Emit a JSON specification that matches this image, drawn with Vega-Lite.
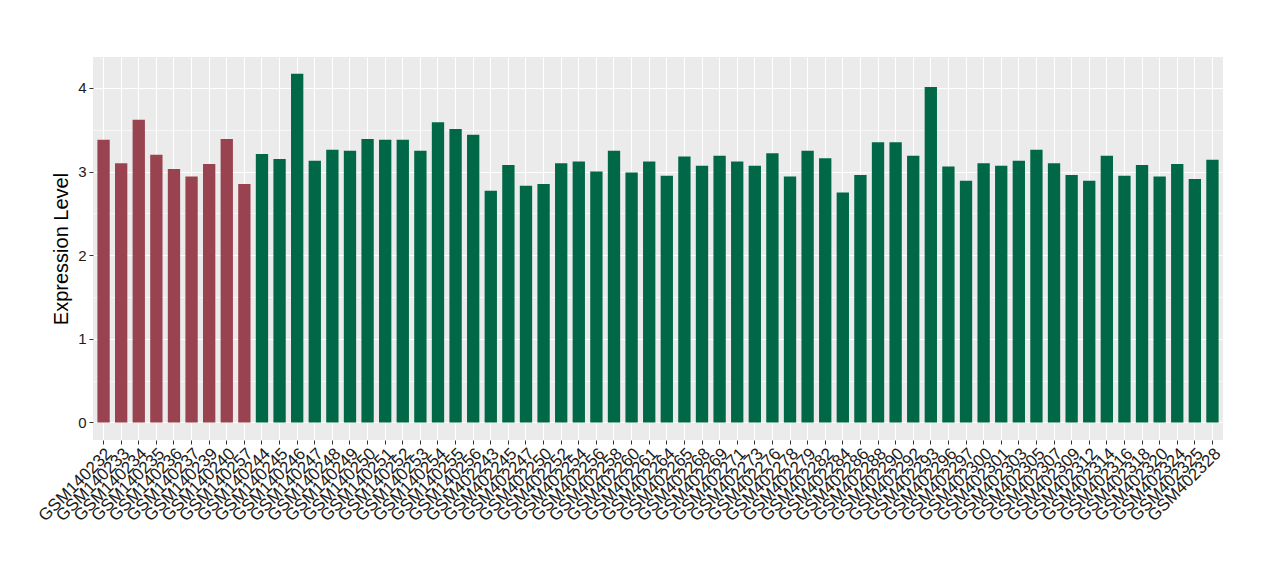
{
  "$schema": "https://vega.github.io/schema/vega-lite/v6.json",
  "width": 1130,
  "height": 383,
  "autosize": {"type": "none"},
  "padding": {"left": 93, "top": 57, "right": 57, "bottom": 140},
  "background": "white",
  "config": {
    "view": {"fill": "#EBEBEB", "stroke": null},
    "font": "Liberation Sans"
  },
  "data": {
    "values": [
      {"s": "GSM140232", "v": 3.38, "g": "a"},
      {"s": "GSM140233", "v": 3.10, "g": "a"},
      {"s": "GSM140234", "v": 3.62, "g": "a"},
      {"s": "GSM140235", "v": 3.20, "g": "a"},
      {"s": "GSM140236", "v": 3.03, "g": "a"},
      {"s": "GSM140237", "v": 2.94, "g": "a"},
      {"s": "GSM140239", "v": 3.09, "g": "a"},
      {"s": "GSM140240", "v": 3.39, "g": "a"},
      {"s": "GSM140257", "v": 2.85, "g": "a"},
      {"s": "GSM140244", "v": 3.21, "g": "b"},
      {"s": "GSM140245", "v": 3.15, "g": "b"},
      {"s": "GSM140246", "v": 4.17, "g": "b"},
      {"s": "GSM140247", "v": 3.13, "g": "b"},
      {"s": "GSM140248", "v": 3.26, "g": "b"},
      {"s": "GSM140249", "v": 3.25, "g": "b"},
      {"s": "GSM140250", "v": 3.39, "g": "b"},
      {"s": "GSM140251", "v": 3.38, "g": "b"},
      {"s": "GSM140252", "v": 3.38, "g": "b"},
      {"s": "GSM140253", "v": 3.25, "g": "b"},
      {"s": "GSM140254", "v": 3.59, "g": "b"},
      {"s": "GSM140255", "v": 3.51, "g": "b"},
      {"s": "GSM140256", "v": 3.44, "g": "b"},
      {"s": "GSM402243", "v": 2.77, "g": "b"},
      {"s": "GSM402245", "v": 3.08, "g": "b"},
      {"s": "GSM402247", "v": 2.83, "g": "b"},
      {"s": "GSM402250", "v": 2.85, "g": "b"},
      {"s": "GSM402252", "v": 3.10, "g": "b"},
      {"s": "GSM402254", "v": 3.12, "g": "b"},
      {"s": "GSM402256", "v": 3.00, "g": "b"},
      {"s": "GSM402258", "v": 3.25, "g": "b"},
      {"s": "GSM402260", "v": 2.99, "g": "b"},
      {"s": "GSM402261", "v": 3.12, "g": "b"},
      {"s": "GSM402264", "v": 2.95, "g": "b"},
      {"s": "GSM402265", "v": 3.18, "g": "b"},
      {"s": "GSM402268", "v": 3.07, "g": "b"},
      {"s": "GSM402269", "v": 3.19, "g": "b"},
      {"s": "GSM402271", "v": 3.12, "g": "b"},
      {"s": "GSM402273", "v": 3.07, "g": "b"},
      {"s": "GSM402276", "v": 3.22, "g": "b"},
      {"s": "GSM402278", "v": 2.94, "g": "b"},
      {"s": "GSM402279", "v": 3.25, "g": "b"},
      {"s": "GSM402282", "v": 3.16, "g": "b"},
      {"s": "GSM402284", "v": 2.75, "g": "b"},
      {"s": "GSM402286", "v": 2.96, "g": "b"},
      {"s": "GSM402288", "v": 3.35, "g": "b"},
      {"s": "GSM402290", "v": 3.35, "g": "b"},
      {"s": "GSM402292", "v": 3.19, "g": "b"},
      {"s": "GSM402293", "v": 4.01, "g": "b"},
      {"s": "GSM402296", "v": 3.06, "g": "b"},
      {"s": "GSM402297", "v": 2.89, "g": "b"},
      {"s": "GSM402300", "v": 3.10, "g": "b"},
      {"s": "GSM402301", "v": 3.07, "g": "b"},
      {"s": "GSM402303", "v": 3.13, "g": "b"},
      {"s": "GSM402305", "v": 3.26, "g": "b"},
      {"s": "GSM402307", "v": 3.10, "g": "b"},
      {"s": "GSM402309", "v": 2.96, "g": "b"},
      {"s": "GSM402312", "v": 2.89, "g": "b"},
      {"s": "GSM402314", "v": 3.19, "g": "b"},
      {"s": "GSM402316", "v": 2.95, "g": "b"},
      {"s": "GSM402318", "v": 3.08, "g": "b"},
      {"s": "GSM402320", "v": 2.94, "g": "b"},
      {"s": "GSM402324", "v": 3.09, "g": "b"},
      {"s": "GSM402325", "v": 2.91, "g": "b"},
      {"s": "GSM402328", "v": 3.14, "g": "b"}
    ]
  },
  "mark": {"type": "bar"},
  "encoding": {
    "x": {
      "field": "s",
      "type": "nominal",
      "sort": null,
      "scale": {"paddingInner": 0.3, "paddingOuter": 0.25},
      "axis": {
        "title": null,
        "bandPosition": 0.5,
        "grid": true,
        "gridColor": "white",
        "gridWidth": 1.1,
        "domain": false,
        "labelAngle": -45,
        "labelAlign": "right",
        "labelBaseline": "top",
        "labelFontSize": 17,
        "labelColor": "#1A1A1A",
        "labelPadding": 1,
        "labelOverlap": false,
        "tickColor": "#333333",
        "tickSize": 4
      }
    },
    "y": {
      "field": "v",
      "type": "quantitative",
      "scale": {"domain": [-0.21, 4.37], "nice": false, "zero": false},
      "axis": {
        "title": "Expression Level",
        "titleFontSize": 20,
        "titleFontWeight": "normal",
        "titleColor": "#000000",
        "titlePadding": 6,
        "values": [0, 0.5, 1, 1.5, 2, 2.5, 3, 3.5, 4],
        "labelExpr": "datum.value % 1 === 0 ? format(datum.value, 'd') : ''",
        "labelFontSize": 15,
        "labelColor": "#1A1A1A",
        "labelPadding": 3,
        "domain": false,
        "grid": true,
        "gridColor": "white",
        "gridWidth": {"condition": {"test": "datum.value % 1 === 0", "value": 1.2}, "value": 0.6},
        "tickColor": "#333333",
        "tickSize": 4,
        "tickOpacity": {"condition": {"test": "datum.value % 1 === 0", "value": 1}, "value": 0}
      }
    },
    "y2": {"datum": 0},
    "color": {
      "field": "g",
      "type": "nominal",
      "scale": {"domain": ["a", "b"], "range": ["#9A4350", "#006846"]},
      "legend": null
    }
  }
}
